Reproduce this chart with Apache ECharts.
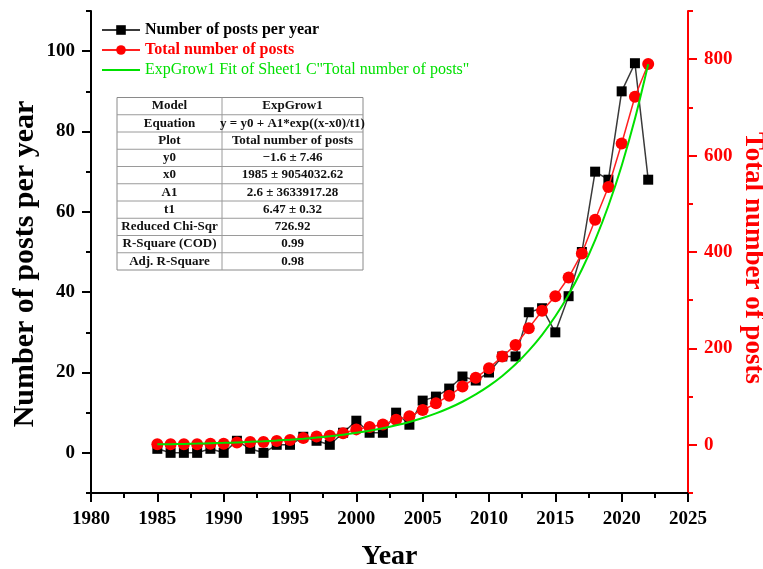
<!DOCTYPE html>
<html>
<head>
<meta charset="utf-8">
<script src="https://cdn.jsdelivr.net/npm/echarts@6/dist/echarts.min.js"></script>
<style>
  html, body { margin: 0; padding: 0; background: #fff; }
  #chart { width: 763px; height: 569px; }
</style>
</head>
<body>
<div id="chart"></div>
<script>
// Publication years
const years = [1985, 1986, 1987, 1988, 1989, 1990, 1991, 1992, 1993, 1994,
               1995, 1996, 1997, 1998, 1999, 2000, 2001, 2002, 2003, 2004,
               2005, 2006, 2007, 2008, 2009, 2010, 2011, 2012, 2013, 2014,
               2015, 2016, 2017, 2018, 2019, 2020, 2021, 2022];

// Posts published in each year (left axis)
const postsPerYear = [1, 0, 0, 0, 1, 0, 3, 1, 0, 2,
                      2, 4, 3, 2, 5, 8, 5, 5, 10, 7,
                      13, 14, 16, 19, 18, 20, 24, 24, 35, 36,
                      30, 39, 50, 70, 68, 90, 97, 68];

// Running total of posts (right axis)
const totalPosts = [1, 1, 1, 1, 2, 2, 5, 6, 6, 8,
                    10, 14, 17, 19, 24, 32, 37, 42, 52, 59,
                    72, 86, 102, 121, 139, 159, 183, 207, 242, 278,
                    308, 347, 397, 467, 535, 625, 722, 790];

// ExpGrow1 fitted curve of the running total (right axis)
const fitCurve = [1.0, 1.4, 1.9, 2.5, 3.2, 4.0, 5.0, 6.1, 7.4, 8.9,
                  10.6, 12.6, 15.0, 17.8, 21.0, 24.8, 29.2, 34.4, 40.4, 47.4,
                  55.6, 65.1, 76.3, 89.3, 104.5, 122.2, 142.9, 167.1, 195.3, 228.2,
                  266.6, 311.4, 363.7, 424.7, 496.0, 579.1, 676.2, 789.4];

// Axis ticks
const leftMajorTicks = [0, 20, 40, 60, 80, 100];
const leftMinorTicks = [-10, 10, 30, 50, 70, 90, 110];
const rightMajorTicks = [0, 200, 400, 600, 800];
const rightMinorTicks = [-100, 100, 300, 500, 700, 900];

// Series names
const seriesNames = ['Number of posts per year', 'Total number of posts',
                     'ExpGrow1 Fit of Sheet1 C"Total number of posts"'];

// Fit report table
const fitParamNames = ['Model', 'Equation', 'Plot', 'y0', 'x0', 'A1', 't1',
                       'Reduced Chi-Sqr', 'R-Square (COD)', 'Adj. R-Square'];
const fitParamValues = ['ExpGrow1', 'y = y0 + A1*exp((x-x0)/t1)', 'Total number of posts',
                        '\u22121.6 \u00b1 7.46', '1985 \u00b1 9054032.62', '2.6 \u00b1 3633917.28',
                        '6.47 \u00b1 0.32', '726.92', '0.99', '0.98'];

const FONT = '"Liberation Serif", "Times New Roman", serif';
const RED = '#ff0000';
const GREEN = '#00e000';

// Build the fit table as graphic elements
function buildTable() {
  const x0 = 117, y0 = 97.5, w1 = 105, w2 = 141, rowH = 17.25;
  const n = fitParamNames.length;
  const children = [];
  children.push({
    type: 'rect', shape: { x: x0, y: y0, width: w1 + w2, height: rowH * n },
    style: { fill: '#fff', stroke: '#8a8a8a', lineWidth: 1 }, z: 50
  });
  for (let i = 1; i < n; i++) {
    children.push({
      type: 'line', shape: { x1: x0, y1: y0 + rowH * i, x2: x0 + w1 + w2, y2: y0 + rowH * i },
      style: { stroke: '#9a9a9a', lineWidth: 1 }, z: 51
    });
  }
  children.push({
    type: 'line', shape: { x1: x0 + w1, y1: y0, x2: x0 + w1, y2: y0 + rowH * n },
    style: { stroke: '#9a9a9a', lineWidth: 1 }, z: 51
  });
  for (let i = 0; i < n; i++) {
    const cy = y0 + rowH * (i + 0.5);
    children.push({
      type: 'text', x: x0 + w1 / 2, y: cy, z: 52,
      style: { text: fitParamNames[i], font: 'bold 13px ' + FONT, fill: '#111',
               align: 'center', verticalAlign: 'middle' }
    });
    children.push({
      type: 'text', x: x0 + w1 + w2 / 2, y: cy, z: 52,
      style: { text: fitParamValues[i], font: 'bold 13px ' + FONT, fill: '#111',
               align: 'center', verticalAlign: 'middle' }
    });
  }
  return children;
}

const tickLabel = { fontFamily: FONT, fontSize: 19, fontWeight: 'bold' };

const chart = echarts.init(document.getElementById('chart'), null, { renderer: 'canvas' });

chart.setOption({
  animation: false,
  backgroundColor: '#fff',
  grid: { left: 91, right: 75, top: 11, bottom: 76, containLabel: false, outerBoundsMode: 'none' },
  legend: {
    orient: 'vertical', left: 101, top: 22, padding: 0,
    itemWidth: 38, itemHeight: 12, itemGap: 4,
    textStyle: { fontFamily: FONT, fontSize: 16, lineHeight: 16 },
    data: [
      { name: seriesNames[0], textStyle: { color: '#000', fontWeight: 'bold' } },
      { name: seriesNames[1], textStyle: { color: RED, fontWeight: 'bold' } },
      { name: seriesNames[2], itemStyle: { opacity: 0 },
        textStyle: { color: GREEN, fontWeight: 'normal' } }
    ]
  },
  xAxis: {
    type: 'value', min: 1980, max: 2025, interval: 5,
    name: 'Year', nameLocation: 'middle', nameGap: 50, nameMoveOverlap: false,
    nameTextStyle: { color: '#000', fontFamily: FONT, fontSize: 28, fontWeight: 'bold' },
    axisLine: { show: true, onZero: false, lineStyle: { color: '#000', width: 2 } },
    axisTick: { show: true, length: 9, lineStyle: { color: '#000', width: 2 } },
    minorTick: { show: true, splitNumber: 2, length: 5, lineStyle: { color: '#000', width: 2 } },
    axisLabel: Object.assign({ color: '#000', margin: 17, formatter: v => String(v) }, tickLabel),
    splitLine: { show: false }
  },
  yAxis: [
    {
      type: 'value', position: 'left', min: -10, max: 110,
      name: seriesNames[0], nameLocation: 'middle', nameGap: 51, nameMoveOverlap: false,
      nameTextStyle: { color: '#000', fontFamily: FONT, fontSize: 30, fontWeight: 'bold',
                       padding: [0, 24, 0, 0] },
      axisLine: { show: true, onZero: false, lineStyle: { color: '#000', width: 2 } },
      axisTick: { show: true, length: 9, customValues: leftMajorTicks, lineStyle: { color: '#000', width: 2 } },
      axisLabel: Object.assign({ color: '#000', margin: 16, customValues: leftMajorTicks }, tickLabel),
      splitLine: { show: false }
    },
    {
      type: 'value', position: 'left', min: -10, max: 110,
      axisLine: { show: false, onZero: false },
      axisTick: { show: true, length: 5, customValues: leftMinorTicks, lineStyle: { color: '#000', width: 2 } },
      axisLabel: { show: false },
      splitLine: { show: false }
    },
    {
      type: 'value', position: 'right', min: -100, max: 900,
      name: seriesNames[1], nameLocation: 'middle', nameGap: 51, nameRotate: -90, nameMoveOverlap: false,
      nameTextStyle: { color: RED, fontFamily: FONT, fontSize: 27, fontWeight: 'bold',
                       padding: [0, 0, 0, 12] },
      axisLine: { show: true, onZero: false, lineStyle: { color: RED, width: 2 } },
      axisTick: { show: true, length: 9, customValues: rightMajorTicks, lineStyle: { color: RED, width: 2 } },
      axisLabel: Object.assign({ color: RED, margin: 16, customValues: rightMajorTicks }, tickLabel),
      splitLine: { show: false }
    },
    {
      type: 'value', position: 'right', min: -100, max: 900,
      axisLine: { show: false, onZero: false },
      axisTick: { show: true, length: 5, customValues: rightMinorTicks, lineStyle: { color: RED, width: 2 } },
      axisLabel: { show: false },
      splitLine: { show: false }
    }
  ],
  series: [
    {
      name: seriesNames[0], type: 'line', yAxisIndex: 0,
      data: years.map((y, i) => [y, postsPerYear[i]]),
      symbol: 'rect', symbolSize: 10,
      itemStyle: { color: '#000' },
      lineStyle: { color: '#3a3a3a', width: 1.5 },
      z: 2
    },
    {
      name: seriesNames[1], type: 'line', yAxisIndex: 2,
      data: years.map((y, i) => [y, totalPosts[i]]),
      symbol: 'circle', symbolSize: 12,
      itemStyle: { color: RED },
      lineStyle: { color: '#ff2020', width: 1.5 },
      z: 3
    },
    {
      name: seriesNames[2], type: 'line', yAxisIndex: 2,
      data: years.map((y, i) => [y, fitCurve[i]]),
      symbol: 'none', smooth: 0.3,
      itemStyle: { color: GREEN },
      lineStyle: { color: GREEN, width: 2 },
      z: 4
    }
  ],
  graphic: buildTable()
});
</script>
</body>
</html>
